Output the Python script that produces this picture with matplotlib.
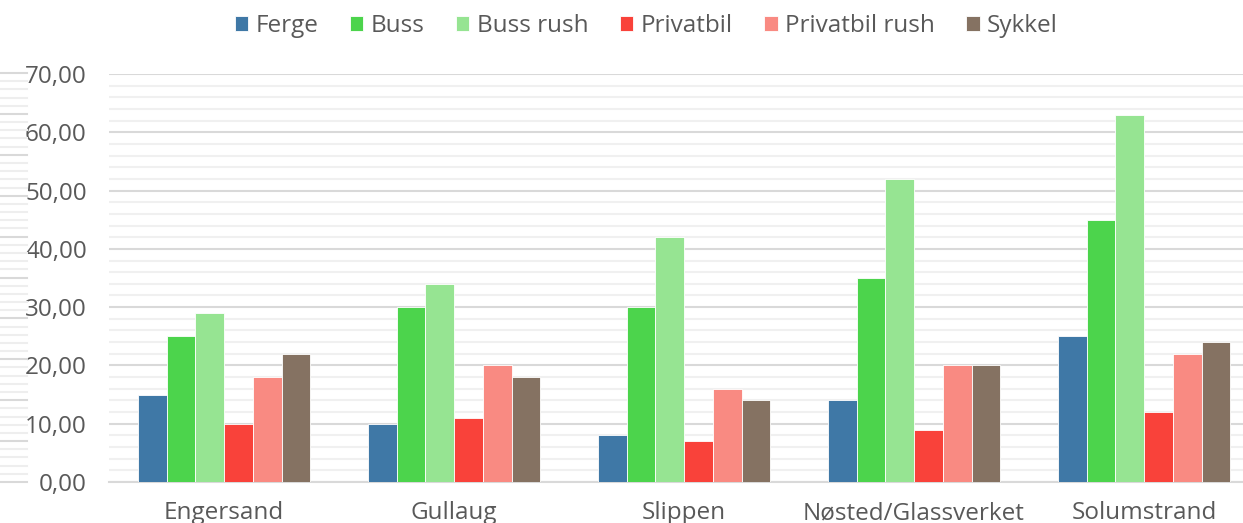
import numpy as np
import matplotlib.pyplot as plt
from matplotlib.lines import Line2D

plt.rcParams['font.family'] = ['Open Sans', 'DejaVu Sans']

places = ["Engersand", "Gullaug", "Slippen", "Nøsted/Glassverket", "Solumstrand"]
series = ["Ferge", "Buss", "Buss rush", "Privatbil", "Privatbil rush", "Sykkel"]
ferge = [15, 10, 8, 14, 25]
buss = [25, 30, 30, 35, 45]
buss_rush = [29, 34, 42, 52, 63]
privatbil = [10, 11, 7, 9, 12]
privatbil_rush = [18, 20, 16, 20, 22]
sykkel = [22, 18, 14, 20, 24]
colors = ["#3F78A6", "#4CD44C", "#96E492", "#F9423A", "#F98A82", "#857262"]

values = [ferge, buss, buss_rush, privatbil, privatbil_rush, sykkel]

W, H = 1243, 523
fig = plt.figure(figsize=(W / 100, H / 100), dpi=100)
ax = fig.add_axes([109 / W, (H - 482) / H, 1150 / W, 408 / H])

x = np.arange(len(places))
bw = 0.75 / len(series)
for i, (name, vals) in enumerate(zip(series, values)):
    ax.bar(x + (i - 2.5) * bw, vals, bw, color=colors[i], label=name,
           edgecolor="white", linewidth=0.6, zorder=3)

ax.set_xlim(-0.5, len(places) - 0.5)
ax.set_ylim(0, 70)
ax.set_yticks(np.arange(0, 71, 10))
ax.set_yticks(np.arange(0, 71, 2), minor=True)
ax.set_yticklabels([f"{v:.2f}".replace(".", ",") for v in range(0, 71, 10)])
ax.set_xticks(x)
ax.set_xticklabels(places)
ax.grid(axis="y", which="major", color="#D9D9D9", linewidth=1.5, zorder=0)
ax.grid(axis="y", which="minor", color="#F0F0F0", linewidth=1.5, zorder=0)
ax.tick_params(axis="y", which="both", length=0, pad=16, labelsize=17.5, labelcolor="#595959")
ax.tick_params(axis="x", length=0, pad=14, labelsize=17.5, labelcolor="#595959")
for s in ["top", "right", "left"]:
    ax.spines[s].set_visible(False)
ax.spines["bottom"].set_color("#D9D9D9")
ax.spines["bottom"].set_linewidth(1.5)

# faint stub lines at the far left edge
for k in range(51):
    y = 73 + k * 40.9 / 5
    if y > 483:
        break
    major = k % 5 == 0
    fig.add_artist(Line2D([0, 27 / W], [1 - y / H, 1 - y / H], transform=fig.transFigure,
                          color="#D9D9D9" if major else "#EEEEEE", linewidth=1.5))

fig.legend(loc="upper center", bbox_to_anchor=(0.52, 1.015), ncol=6, frameon=False,
           fontsize=17.5, handlelength=0.55, handleheight=0.55, handletextpad=0.3,
           columnspacing=1.3, labelcolor="#595959")

fig.savefig("out.png", dpi=100)
